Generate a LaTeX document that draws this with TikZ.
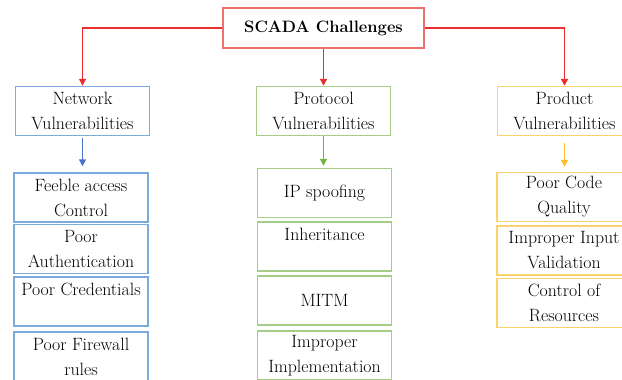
\documentclass[tikz,border=0pt]{standalone}
\usetikzlibrary{arrows.meta}
\definecolor{scred}{RGB}{240,110,110}
\definecolor{scarrow}{RGB}{235,45,45}
\definecolor{netblue}{RGB}{125,170,220}
\definecolor{netarrow}{RGB}{70,115,200}
\definecolor{progreen}{RGB}{165,205,135}
\definecolor{proarrow}{RGB}{110,180,65}
\definecolor{prodyellow}{RGB}{250,210,110}
\definecolor{prodarrow}{RGB}{250,190,40}

\begin{document}
\begin{tikzpicture}[x=1pt, y=-1pt,
    box/.style={draw, line width=1.5pt, fill=white, minimum width=134pt, minimum height=49pt,
        inner sep=0pt, align=center, text=black, font=\fontsize{17.8}{25}\selectfont},
    tip/.style={-{Triangle[width=7pt,length=7pt]}, line width=1.6pt}]
    \useasboundingbox (0,0) rectangle (622,380);
    % root and the three groups
    \node[box, draw=scred, minimum width=201pt, minimum height=40pt,
        font=\bfseries\fontsize{16.5}{25}\selectfont] (top) at (323.5,28) {SCADA Challenges};
    \node[box, draw=netblue] (net) at (82.5,111) {Network\\Vulnerabilities};
    \node[box, draw=progreen] (pro) at (323.5,111) {Protocol\\Vulnerabilities};
    \node[box, draw=prodyellow] (prod) at (564.5,111) {Product\\Vulnerabilities};
    \draw[tip, scarrow] (top.west) -| (net.north);
    \draw[tip, scarrow] (top.south) -- (pro.north);
    \draw[tip, scarrow] (top.east) -| (prod.north);
    % network column
    \foreach \i/\y/\txt in {1/197.5/{Feeble access\\Control}, 2/249/{Poor\\Authentication},
        3/301.5/{Poor Credentials\\~}, 4/356.5/{Poor Firewall\\rules}} {
        \node[box, draw=netblue] (net\i) at (81,\y) {\txt};
    }
    % protocol column
    \foreach \i/\y/\txt in {1/193/{IP spoofing}, 2/246.5/{Inheritance\\~},
        3/300.5/{MITM}, 4/355.5/{Improper\\Implementation}} {
        \node[box, draw=progreen] (pro\i) at (324.5,\y) {\txt};
    }
    % product column
    \foreach \i/\y/\txt in {1/197/{Poor Code\\Quality}, 2/250.5/{Improper Input\\Validation},
        3/303/{Control of\\Resources}} {
        \node[box, draw=prodyellow] (prod\i) at (564,\y) {\txt};
    }
    \draw[tip, netarrow, shorten <=2pt, shorten >=6pt] (net.south) -- (net.south |- net1.north);
    \draw[tip, proarrow, shorten >=2pt] (pro.south) -- (pro.south |- pro1.north);
    \draw[tip, prodarrow, shorten <=7pt, shorten >=5pt] (prod.south) -- (prod.south |- prod1.north);
\end{tikzpicture}
\end{document}
